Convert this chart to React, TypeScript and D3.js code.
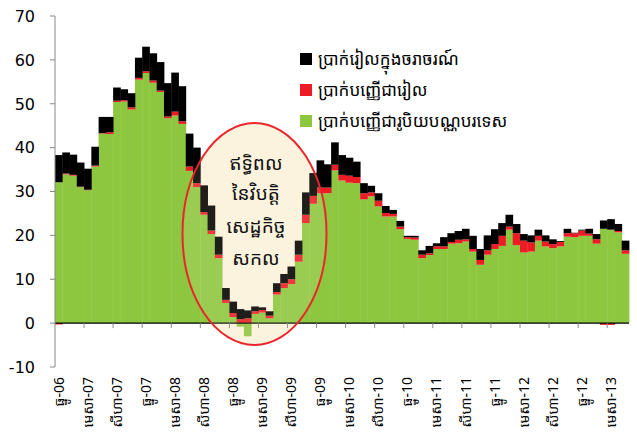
import React from "react";
import * as d3 from "d3";

const tickLabels = [
  "ធ្នូ-06", "មេសា-07", "សីហា-07", "ធ្នូ-07", "មេសា-08", "សីហា-08", "ធ្នូ-08",
  "មេសា-09", "សីហា-09", "ធ្នូ-09", "មេសា-10", "សីហា-10", "ធ្នូ-10", "មេសា-11",
  "សីហា-11", "ធ្នូ-11", "មេសា-12", "សីហា-12", "ធ្នូ-12", "មេសា-13",
];

// Foreign-currency deposits (green)
const foreignDeposits = [
  32.1, 33.9, 33.6, 31.0, 30.3, 35.7, 43.2, 43.1, 50.4, 50.5,
  48.7, 55.5, 57.0, 54.8, 52.7, 46.7, 47.3, 45.4, 34.7, 31.0,
  24.7, 20.3, 14.8, 4.6, 1.4, -0.8, -3.0, 2.1, 2.4, 1.1,
  6.5, 8.0, 8.9, 14.0, 22.8, 27.2, 29.6, 29.6, 34.8, 32.5,
  32.0, 31.9, 28.2, 28.9, 26.6, 24.3, 24.3, 21.4, 19.2, 19.0,
  14.8, 15.5, 16.9, 16.9, 18.1, 18.2, 18.6, 16.3, 13.3, 15.6,
  16.9, 17.6, 21.3, 17.8, 16.1, 16.3, 18.8, 17.5, 17.1, 17.5,
  19.7, 19.6, 19.9, 19.9, 18.1, 21.5, 21.3, 20.7, 15.8,
];

// Riel deposits (red)
const rielDeposits = [
  -0.3, 0.2, 0.2, 0.1, 0.1, 0.2, 0.1, 0.4, 0.3, 0.3,
  0.5, 0.4, 0.4, 0.5, 0.3, 0.4, 0.9, 0.6, 1.0, 0.9,
  0.6, 0.8, 0.8, 0.7, 0.9, 0.9, 1.1, 0.6, 0.6, 0.6,
  0.6, 1.1, 1.1, 1.6, 1.9, 1.8, 1.3, 1.3, 1.3, 1.3,
  1.6, 1.4, 1.4, 0.9, 1.3, 0.8, 0.6, 0.6, 0.4, 0.5,
  0.8, 0.4, 0.6, 0.6, 0.4, 0.8, 0.5, 0.6, 1.1, 1.0,
  1.1, 2.3, 0.7, 2.7, 2.7, 2.1, 1.1, 1.1, 0.9, 1.0,
  0.8, 0.9, 1.2, 0.5, 1.0, -0.4, -0.4, 0.3, 0.8,
];

// Riel currency in circulation (black)
const rielCurrency = [
  6.2, 4.8, 4.6, 5.5, 4.8, 4.3, 3.7, 3.5, 3.0, 2.5,
  3.2, 4.6, 5.6, 6.2, 6.5, 7.6, 8.9, 8.0, 7.5, 8.1,
  6.1, 5.7, 4.1, 2.7, 2.6, 2.3, 1.8, 1.1, 0.6, 1.0,
  2.0, 2.1, 2.9, 3.2, 5.1, 5.2, 6.2, 5.3, 5.1, 4.5,
  4.1, 3.5, 2.3, 1.5, 1.7, 1.6, 0.9, 1.3, 0.3, 0.4,
  1.0, 1.7, 0.7, 2.1, 2.0, 2.0, 2.4, 3.0, 2.5, 3.4,
  3.4, 2.9, 2.7, 2.1, 1.5, 1.6, 1.4, 1.4, 1.1, 0.2,
  1.0, 0.1, 0.2, 1.1, 1.2, 1.9, 2.4, 1.6, 2.2,
];

const yTicks = [-10, 0, 10, 20, 30, 40, 50, 60, 70];
const legendLabels = [
  "ប្រាក់រៀលក្នុងចរាចរណ៍",
  "ប្រាក់បញ្ញើជារៀល",
  "ប្រាក់បញ្ញើជារូបិយបណ្ណបរទេស",
];
const calloutLines = ["ឥទ្ធិពល", "នៃវិបត្តិ", "សេដ្ឋកិច្ច", "សកល"];

const W = 637;
const H = 442;
const KH = "'Noto Sans Khmer', 'Khmer OS System', 'Noto Serif Khmer', 'DejaVu Sans', sans-serif";

export default function App() {
  const n = foreignDeposits.length;
  const rows = d3.range(n).map((i) => ({
    i,
    green: foreignDeposits[i],
    red: rielDeposits[i],
    black: rielCurrency[i],
  }));
  const keys = ["green", "red", "black"];
  const colors: Record<string, string> = { green: "#8DC63F", red: "#ED1C24", black: "#000000" };
  const series = d3.stack<any>().keys(keys).offset(d3.stackOffsetDiverging)(rows);

  const x = d3.scaleBand<number>().domain(d3.range(n)).range([55, 629]).padding(0);
  const y = d3.scaleLinear().domain([-10, 70]).range([367, 16]);
  const bw = x.bandwidth();

  const cx = 254.5, cy = 234, rx = 72, ry = 111;

  return (
    <svg width={W} height={H} style={{ position: "absolute", left: 0, top: 0, background: "#fff" }}>
      {/* callout fill behind bars */}
      <ellipse cx={cx} cy={cy} rx={rx} ry={ry} fill="#FBF3DE" />
      {series.map((s) => (
        <g key={s.key} fill={colors[s.key]}>
          {s.map((d, j) => {
            const y0 = y(d[0]);
            const y1 = y(d[1]);
            const top = Math.min(y0, y1);
            const h = Math.abs(y0 - y1);
            if (h < 0.01) return null;
            return <rect key={j} x={x(j)!} y={top} width={bw + 0.4} height={h} />;
          })}
        </g>
      ))}
      {/* x axis at zero */}
      <line x1={55} x2={629} y1={y(0)} y2={y(0)} stroke="#000" strokeWidth={1.3} />
      {tickLabels.map((t, k) => {
        const i = k * 4;
        const tx = x(i)!;
        return k === 0 ? null : (
          <line key={"t" + k} x1={tx} x2={tx} y1={y(0)} y2={y(0) + 5} stroke="#888" strokeWidth={1} />
        );
      })}
      {tickLabels.map((t, k) => {
        const i = k * 4;
        const tx = x(i)! + bw / 2;
        return (
          <text
            key={"l" + k}
            transform={`translate(${tx + 5},377) rotate(-90)`}
            textAnchor="end"
            fontFamily={KH}
            fontSize={14}
            fill="#000"
          >
            {t}
          </text>
        );
      })}
      {/* y axis */}
      <line x1={55} x2={55} y1={y(70)} y2={y(-10)} stroke="#888" strokeWidth={1} />
      {yTicks.map((v) => (
        <g key={v}>
          <line x1={50} x2={55} y1={y(v)} y2={y(v)} stroke="#888" strokeWidth={1} />
          <text x={35} y={y(v)} dy="0.36em" textAnchor="end" fontFamily="'DejaVu Sans', sans-serif" fontSize={16} fill="#000">
            {v}
          </text>
        </g>
      ))}
      {/* callout overlay */}
      <ellipse cx={cx} cy={cy} rx={rx} ry={ry} fill="#FBF3DE" fillOpacity={0.12} stroke="#E8262B" strokeWidth={2} />
      {calloutLines.map((t, k) => (
        <text key={t} x={256} y={[163, 193, 226, 258][k]} dy="0.35em" textAnchor="middle" fontFamily={KH} fontSize={19} fill="#111">
          {t}
        </text>
      ))}
      {/* legend */}
      {legendLabels.map((t, k) => (
        <g key={t} transform={`translate(300,${[53, 84, 115][k]})`}>
          <rect width={12} height={12} fill={[colors.black, colors.red, colors.green][k]} />
          <text x={18} y={6} dy="0.35em" fontFamily={KH} fontSize={17} fill="#000">
            {t}
          </text>
        </g>
      ))}
    </svg>
  );
}
